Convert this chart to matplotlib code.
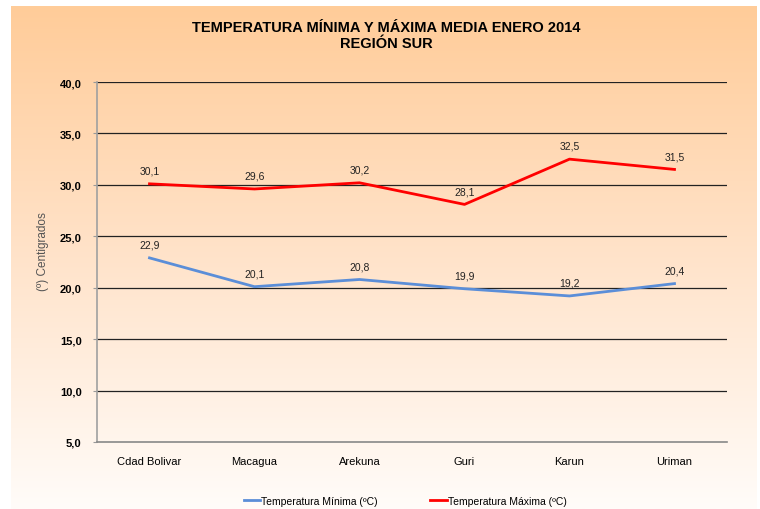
import numpy as np
import matplotlib
matplotlib.use("Agg")
import matplotlib.pyplot as plt
from matplotlib.colors import LinearSegmentedColormap

# Data
estaciones = ["Cdad Bolivar", "Macagua", "Arekuna", "Guri", "Karun", "Uriman"]
temp_min = [22.9, 20.1, 20.8, 19.9, 19.2, 20.4]
temp_max = [30.1, 29.6, 30.2, 28.1, 32.5, 31.5]
y_ticks = [5, 10, 15, 20, 25, 30, 35, 40]

def fmt(v):
    return f"{v:.1f}".replace(".", ",")

plt.rcParams['font.family'] = ['Liberation Sans', 'DejaVu Sans']

fig = plt.figure(figsize=(7.6, 5.1), dpi=100)
fig.patch.set_facecolor("white")

# gradient background (peach -> near white)
bg = fig.add_axes([11/760, 0, 746/760, 503/510], zorder=0)
cmap = LinearSegmentedColormap.from_list("peach", ["#FFCC99", "#FFE3CA", "#FFFCF9"])
grad = np.linspace(0, 1, 256).reshape(-1, 1)
bg.imshow(grad, aspect="auto", cmap=cmap, extent=[0, 1, 0, 1], origin="upper")
bg.set_axis_off()

ax = fig.add_axes([97/760, 1 - 443/510, 630/760, 360/510], zorder=1)
ax.patch.set_alpha(0)

x = np.arange(len(estaciones))
ax.plot(x, temp_min, color="#5B8ED8", lw=2.0, label="Temperatura Mínima (ºC)", zorder=3)
ax.plot(x, temp_max, color="#FF0000", lw=2.0, label="Temperatura Máxima (ºC)", zorder=3)

for xi, v in zip(x, temp_min):
    ax.annotate(fmt(v), (xi, v), xytext=(0, 6), textcoords="offset points",
                ha="center", va="bottom", fontsize=7.5, color="#222222", zorder=4)
for xi, v in zip(x, temp_max):
    ax.annotate(fmt(v), (xi, v), xytext=(0, 6), textcoords="offset points",
                ha="center", va="bottom", fontsize=7.5, color="#222222", zorder=4)

ax.set_xlim(-0.5, len(estaciones) - 0.5)
ax.set_ylim(5, 40)
ax.set_yticks(y_ticks)
ax.set_yticklabels([fmt(t) for t in y_ticks], fontsize=8, fontweight="bold")
ax.set_xticks(x)
ax.set_xticklabels(estaciones, fontsize=8)
ax.tick_params(axis="x", length=0, pad=10)
ax.tick_params(axis="y", length=3, color="#999999", pad=8)

for t in y_ticks[1:]:
    ax.axhline(t, color="#222222", lw=0.9, zorder=1)

for s in ["top", "right"]:
    ax.spines[s].set_visible(False)
ax.spines["left"].set_color("#A0A0A0")
ax.spines["left"].set_linewidth(1.2)
ax.spines["bottom"].set_color("#888888")
ax.spines["bottom"].set_linewidth(1.2)

ax.set_ylabel("(º) Centigrados", fontsize=8.5, color="#555555")
ax.yaxis.set_label_coords(-0.076, 0.533)

fig.text(386/760, 1 - 36/510, "TEMPERATURA MÍNIMA Y MÁXIMA MEDIA ENERO 2014\nREGIÓN SUR",
         ha="center", va="center", fontsize=10.5, fontweight="bold",
         family=["Liberation Sans Narrow", "Liberation Sans", "DejaVu Sans"],
         linespacing=1.25)

h, l = ax.get_legend_handles_labels()
fig.legend(h, l, loc="center", bbox_to_anchor=(0.533, 1 - 502/510), ncol=2,
           frameon=False, fontsize=7.5, handlelength=1.6, handletextpad=0.1,
           columnspacing=5.0)

fig.savefig("out.png", dpi=100)
